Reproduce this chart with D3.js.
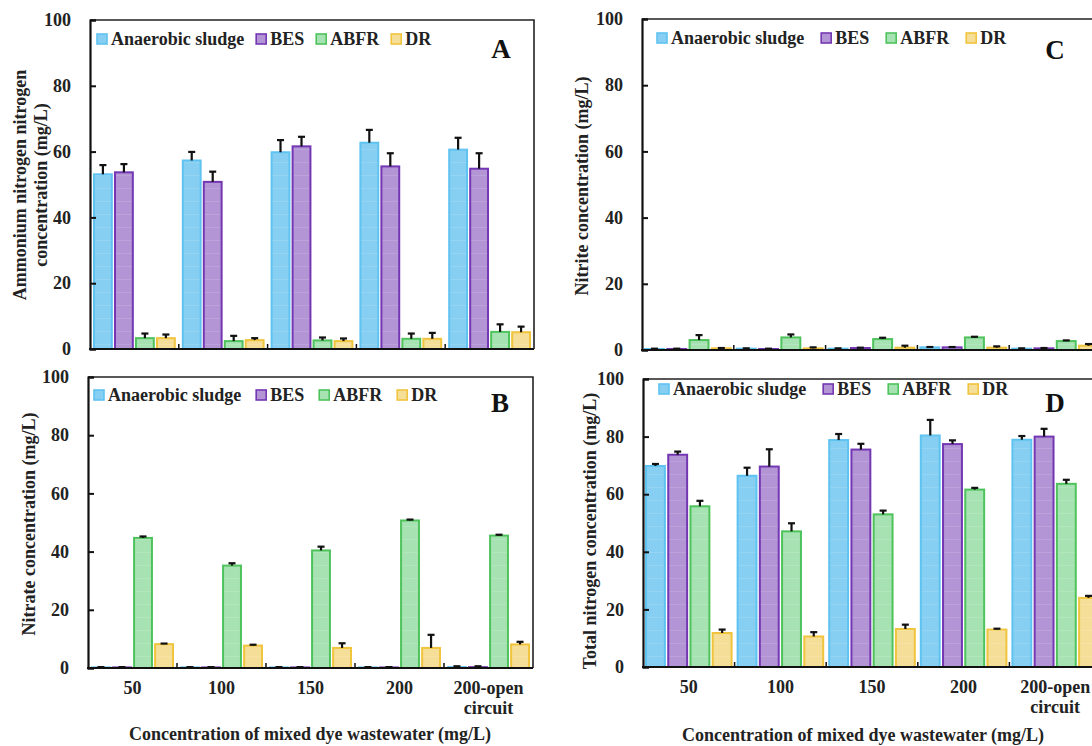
<!DOCTYPE html>
<html>
<head>
<meta charset="utf-8">
<script src="https://cdn.jsdelivr.net/npm/d3@7"></script>
<style>
  html, body { margin: 0; padding: 0; background: #fff; }
  svg { display: block; font-family: "Liberation Serif", "Times New Roman", serif; font-weight: bold; }
</style>
</head>
<body>
<svg id="svg" width="1092" height="746"></svg>
<script>
// categories and series
var categories = ["50", "100", "150", "200", "200-open circuit"];
var series = ["Anaerobic sludge", "BES", "ABFR", "DR"];
var yTicks = [0, 20, 40, 60, 80, 100];

// A: ammonium nitrogen (rows = series, cols = categories)
var ammoniumMean = [
  [53.1, 57.3, 59.8, 62.7, 60.6],
  [53.7, 50.8, 61.6, 55.5, 54.8],
  [3.3, 2.4, 2.6, 3.1, 5.2],
  [3.3, 2.7, 2.4, 3.1, 5.1]
];
var ammoniumErr = [
  [2.8, 2.6, 3.7, 3.9, 3.6],
  [2.5, 3.1, 2.9, 4.0, 4.7],
  [1.4, 1.6, 0.9, 1.6, 2.3],
  [1.1, 0.6, 0.8, 1.8, 1.7]
];

// B: nitrate
var nitrateMean = [
  [0.2, 0.2, 0.2, 0.2, 0.3],
  [0.2, 0.2, 0.2, 0.2, 0.3],
  [44.7, 35.2, 40.4, 50.7, 45.5],
  [8.2, 7.7, 6.9, 6.9, 8.1]
];
var nitrateErr = [
  [0.1, 0.1, 0.1, 0.1, 0.3],
  [0.1, 0.1, 0.1, 0.1, 0.3],
  [0.5, 0.8, 1.3, 0.3, 0.3],
  [0.2, 0.3, 1.6, 4.5, 0.9]
];

// C: nitrite
var nitriteMean = [
  [0.3, 0.4, 0.4, 0.8, 0.4],
  [0.3, 0.3, 0.6, 0.8, 0.5],
  [3.0, 3.8, 3.3, 3.8, 2.7],
  [0.5, 0.5, 0.7, 0.7, 1.3]
];
var nitriteErr = [
  [0.1, 0.1, 0.1, 0.1, 0.1],
  [0.1, 0.1, 0.1, 0.1, 0.1],
  [1.5, 0.9, 0.4, 0.2, 0.2],
  [0.1, 0.3, 0.6, 0.4, 0.5]
];

// D: total nitrogen
var totalMean = [
  [69.8, 66.4, 78.8, 80.4, 78.9],
  [73.7, 69.6, 75.5, 77.4, 80.0],
  [55.8, 47.1, 53.0, 61.6, 63.6],
  [11.8, 10.6, 13.2, 13.0, 24.0]
];
var totalErr = [
  [0.7, 2.8, 2.1, 5.4, 1.3],
  [1.1, 6.0, 2.0, 1.3, 2.7],
  [1.9, 2.8, 1.3, 0.6, 1.4],
  [1.2, 1.5, 1.5, 0.3, 0.7]
];

var fills = ["#86cff2", "#b395d5", "#a7e2b3", "#f5de97"];
var strokes = ["#5fc3f1", "#7437b3", "#4ec35c", "#f0c43c"];

var svg = d3.select("#svg");

// faint horizontal texture on bars
var defs = svg.append("defs");
var pat = defs.append("pattern")
  .attr("id", "tex")
  .attr("patternUnits", "userSpaceOnUse")
  .attr("width", 8).attr("height", 13);
pat.append("rect").attr("x", 0).attr("y", 6).attr("width", 8).attr("height", 1)
  .attr("fill", "#fff").attr("opacity", 0.12);

var panels = [
  {letter: "A", mean: ammoniumMean, err: ammoniumErr, x0: 90, x1: 534, y0: 20, y1: 349, inset: 4,
   ytitle: ["Ammonium nitrogen nitrogen", "concentration (mg/L)"], ytx: 31, yty: 185,
   legX: 97, legY: 45, legGap: 12, letterX: 501, letterY: 58, xlabels: false},
  {letter: "B", mean: nitrateMean, err: nitrateErr, x0: 88, x1: 533, y0: 377, y1: 668, inset: 4,
   ytitle: ["Nitrate concentration (mg/L)"], ytx: 29, yty: 524,
   legX: 94, legY: 401, legGap: 15, letterX: 500, letterY: 412, xlabels: true, xtx: 310, xty: 740},
  {letter: "C", mean: nitriteMean, err: nitriteErr, x0: 642, x1: 1101, y0: 19, y1: 350, inset: 3,
   ytitle: ["Nitrite concentration (mg/L)"], ytx: 582, yty: 186,
   legX: 657, legY: 44, legGap: 17, letterX: 1055, letterY: 59, xlabels: false},
  {letter: "D", mean: totalMean, err: totalErr, x0: 643, x1: 1101, y0: 379, y1: 667, inset: 3,
   ytitle: ["Total nitrogen concentration (mg/L)"], ytx: 590, yty: 531,
   legX: 659, legY: 395, legGap: 17, letterX: 1055, letterY: 412, xlabels: true, xtx: 863, xty: 741}
];

panels.forEach(function(p) {
  var g = svg.append("g");

  var x = d3.scaleBand().domain(categories).range([p.x0, p.x1]);
  var xs = d3.scaleBand().domain(series).range([p.inset, x.bandwidth() - p.inset]).paddingInner(0.15);
  var y = d3.scaleLinear().domain([0, 100]).range([p.y1, p.y0]);

  // bars
  series.forEach(function(s, si) {
    categories.forEach(function(c, ci) {
      var v = p.mean[si][ci], e = p.err[si][ci];
      var bx = x(c) + xs(s), bw = xs.bandwidth();
      g.append("rect")
        .attr("x", bx).attr("y", y(v))
        .attr("width", bw).attr("height", y(0) - y(v))
        .attr("fill", fills[si])
        .attr("stroke", strokes[si]).attr("stroke-width", 2);
      g.append("rect")
        .attr("x", bx + 1).attr("y", y(v))
        .attr("width", bw - 2).attr("height", Math.max(0, y(0) - y(v)))
        .attr("fill", "url(#tex)");
      // error bar (upper only)
      var cx = bx + bw / 2;
      g.append("line")
        .attr("x1", cx).attr("x2", cx)
        .attr("y1", y(v)).attr("y2", y(v + e))
        .attr("stroke", "#111").attr("stroke-width", 2.2);
      g.append("line")
        .attr("x1", cx - 3.5).attr("x2", cx + 3.5)
        .attr("y1", y(v + e)).attr("y2", y(v + e))
        .attr("stroke", "#111").attr("stroke-width", 2.2);
    });
  });

  // frame (top / right)
  g.append("path")
    .attr("d", "M" + p.x0 + "," + p.y0 + "H" + p.x1 + "V" + p.y1)
    .attr("fill", "none").attr("stroke", "#222").attr("stroke-width", 1.6);

  // y axis, ticks pointing inward
  var yAxis = d3.axisLeft(y).tickValues(yTicks).tickSize(-6).tickPadding(19);
  var ya = g.append("g").attr("transform", "translate(" + p.x0 + ",0)").call(yAxis);
  ya.select(".domain").attr("stroke", "#111").attr("stroke-width", 2.2);
  ya.selectAll(".tick line").attr("stroke", "#111").attr("stroke-width", 2);
  ya.selectAll("text")
    .attr("font-family", "Liberation Serif, Times New Roman, serif")
    .attr("font-weight", "bold").attr("font-size", 18).attr("fill", "#222");

  // x axis line and group boundary ticks
  g.append("line")
    .attr("x1", p.x0 - 1).attr("x2", p.x1)
    .attr("y1", p.y1).attr("y2", p.y1)
    .attr("stroke", "#111").attr("stroke-width", 2.2);
  categories.slice(1).forEach(function(c) {
    g.append("line")
      .attr("x1", x(c)).attr("x2", x(c))
      .attr("y1", p.y1).attr("y2", p.y1 - 5)
      .attr("stroke", "#111").attr("stroke-width", 1.5);
  });

  if (p.xlabels) {
    categories.forEach(function(c) {
      var lines = c === "200-open circuit" ? ["200-open", "circuit"] : [c];
      var t = g.append("text")
        .attr("x", x(c) + x.bandwidth() / 2)
        .attr("y", p.y1 + 26)
        .attr("text-anchor", "middle")
        .attr("font-size", 18).attr("fill", "#222");
      lines.forEach(function(l, i) {
        t.append("tspan").attr("x", x(c) + x.bandwidth() / 2).attr("dy", i ? 20 : 0).text(l);
      });
    });
    g.append("text")
      .attr("x", p.xtx).attr("y", p.xty)
      .attr("text-anchor", "middle")
      .attr("font-size", 18).attr("fill", "#222")
      .text("Concentration of mixed dye wastewater (mg/L)");
  }

  // y title
  var yt = g.append("text")
    .attr("transform", "translate(" + p.ytx + "," + p.yty + ") rotate(-90)")
    .attr("text-anchor", "middle")
    .attr("font-size", 18).attr("fill", "#222");
  p.ytitle.forEach(function(l, i) {
    var off = p.ytitle.length > 1 ? (i === 0 ? -11 : 10) : 0;
    yt.append("tspan").attr("x", 0).attr("y", off).attr("dy", "0.35em").text(l);
  });

  // legend
  var lx = p.legX;
  series.forEach(function(s, si) {
    g.append("rect")
      .attr("x", lx).attr("y", p.legY - 11)
      .attr("width", 10).attr("height", 10)
      .attr("fill", fills[si]).attr("stroke", strokes[si]).attr("stroke-width", 1.6);
    var t = g.append("text")
      .attr("x", lx + 14).attr("y", p.legY)
      .attr("font-size", 18).attr("fill", "#222")
      .text(s);
    lx += 14 + t.node().getComputedTextLength() + p.legGap;
  });

  // panel letter
  g.append("text")
    .attr("x", p.letterX).attr("y", p.letterY)
    .attr("text-anchor", "middle")
    .attr("font-size", 27).attr("fill", "#111")
    .text(p.letter);
});
</script>
</body>
</html>
